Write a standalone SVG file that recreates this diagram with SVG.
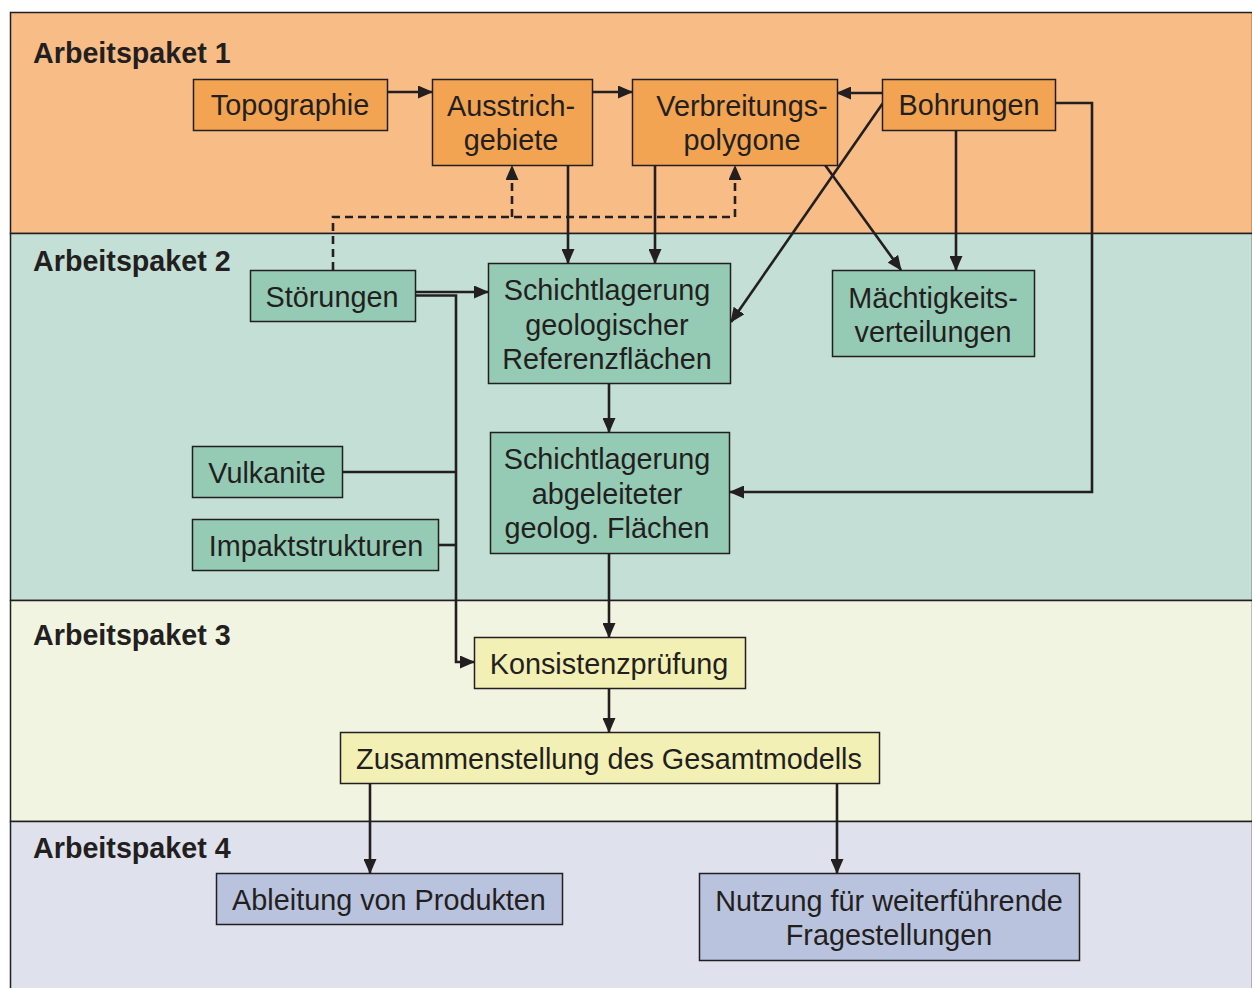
<svg xmlns="http://www.w3.org/2000/svg" width="1252" height="988" viewBox="0 0 1252 988">
<style>
.band{stroke:#231f20;stroke-width:1.5}
.box{stroke:#231f20;stroke-width:1.5}
.o{fill:#f2a452}.g{fill:#95cab5}.y{fill:#f2f0b5}.b{fill:#b9c3de}
text{font-family:"Liberation Sans",Arial,sans-serif;fill:#231f20}
.t{font-size:28.8px;text-anchor:middle}
.h{font-size:28.7px;font-weight:bold}
.c{fill:none;stroke:#231f20;stroke-width:2.6}
.d{fill:none;stroke:#231f20;stroke-width:2.6;stroke-dasharray:8 5}
</style>
<defs>
<marker id="ar" markerUnits="userSpaceOnUse" markerWidth="15" markerHeight="13" refX="14" refY="6.5" orient="auto"><path d="M0,0 L15,6.5 L0,13 z" fill="#231f20"/></marker>
</defs>
<g id="bands">
<rect class="band" x="10.5" y="12.5" width="1242" height="221" fill="#f8bd87"/>
<rect class="band" x="10.5" y="233.5" width="1242" height="367" fill="#c3dfd6"/>
<rect class="band" x="10.5" y="600.5" width="1242" height="221" fill="#f2f4e2"/>
<rect class="band" x="10.5" y="821.5" width="1242" height="180" fill="#dfe2ec"/>
<text class="h" x="33" y="63">Arbeitspaket 1</text>
<text class="h" x="33" y="271">Arbeitspaket 2</text>
<text class="h" x="33" y="645">Arbeitspaket 3</text>
<text class="h" x="33" y="858">Arbeitspaket 4</text>
</g>
<g id="connectors">
<line class="c" x1="387" y1="92" x2="432" y2="92" marker-end="url(#ar)"/>
<line class="c" x1="592" y1="92" x2="632" y2="92" marker-end="url(#ar)"/>
<line class="c" x1="882" y1="93" x2="837" y2="93" marker-end="url(#ar)"/>
<line class="c" x1="883" y1="103" x2="731" y2="322" marker-end="url(#ar)"/>
<line class="c" x1="825" y1="165" x2="901" y2="270" marker-end="url(#ar)"/>
<line class="c" x1="956" y1="130" x2="956" y2="270" marker-end="url(#ar)"/>
<polyline class="c" points="1055,103 1092,103 1092,492 730,492" marker-end="url(#ar)"/>
<line class="c" x1="568" y1="165" x2="568" y2="263" marker-end="url(#ar)"/>
<line class="c" x1="655" y1="165" x2="655" y2="263" marker-end="url(#ar)"/>
<polyline class="d" points="333,270 333,217 735,217 735,166" marker-end="url(#ar)"/>
<line class="d" x1="512" y1="217" x2="512" y2="166" marker-end="url(#ar)"/>
<line class="c" x1="415" y1="292" x2="488" y2="292" marker-end="url(#ar)"/>
<polyline class="c" points="415,295.5 456,295.5 456,662 474,662" marker-end="url(#ar)"/>
<line class="c" x1="342" y1="472" x2="456" y2="472"/>
<line class="c" x1="438" y1="545" x2="456" y2="545"/>
<line class="c" x1="609" y1="383" x2="609" y2="432" marker-end="url(#ar)"/>
<line class="c" x1="609" y1="553" x2="609" y2="637" marker-end="url(#ar)"/>
<line class="c" x1="609" y1="688" x2="609" y2="732" marker-end="url(#ar)"/>
<line class="c" x1="370" y1="783" x2="370" y2="873" marker-end="url(#ar)"/>
<line class="c" x1="837" y1="783" x2="837" y2="873" marker-end="url(#ar)"/>
</g>
<g id="topographie"><rect class="box o" x="193.5" y="79.5" width="194" height="51"/><text class="t" x="290" y="115">Topographie</text></g>
<g id="ausstrich"><rect class="box o" x="432.5" y="79.5" width="160" height="86"/><text class="t" x="511" y="116">Ausstrich-</text><text class="t" x="511" y="150">gebiete</text></g>
<g id="verbreitung"><rect class="box o" x="632.5" y="79.5" width="205" height="86"/><text class="t" x="742" y="116">Verbreitungs-</text><text class="t" x="742" y="150">polygone</text></g>
<g id="bohrungen"><rect class="box o" x="882.5" y="79.5" width="173" height="51"/><text class="t" x="969" y="115">Bohrungen</text></g>
<g id="stoerungen"><rect class="box g" x="250.5" y="270.5" width="165" height="51"/><text class="t" x="332" y="307">Störungen</text></g>
<g id="schicht-ref"><rect class="box g" x="488.5" y="263.5" width="242" height="120"/><text class="t" x="607" y="300">Schichtlagerung</text><text class="t" x="607" y="335">geologischer</text><text class="t" x="607" y="369">Referenzflächen</text></g>
<g id="maechtigkeit"><rect class="box g" x="832.5" y="270.5" width="202" height="86"/><text class="t" x="933" y="308">Mächtigkeits-</text><text class="t" x="933" y="342">verteilungen</text></g>
<g id="vulkanite"><rect class="box g" x="192.5" y="446.5" width="150" height="51"/><text class="t" x="267" y="483">Vulkanite</text></g>
<g id="impakt"><rect class="box g" x="192.5" y="519.5" width="246" height="51"/><text class="t" x="316" y="556">Impaktstrukturen</text></g>
<g id="schicht-abg"><rect class="box g" x="490.5" y="432.5" width="239" height="121"/><text class="t" x="607" y="469">Schichtlagerung</text><text class="t" x="607" y="504">abgeleiteter</text><text class="t" x="607" y="538">geolog. Flächen</text></g>
<g id="konsistenz"><rect class="box y" x="474.5" y="637.5" width="271" height="51"/><text class="t" x="609" y="674">Konsistenzprüfung</text></g>
<g id="gesamtmodell"><rect class="box y" x="340.5" y="732.5" width="539" height="51"/><text class="t" x="609" y="769">Zusammenstellung des Gesamtmodells</text></g>
<g id="produkte"><rect class="box b" x="216.5" y="873.5" width="346" height="51"/><text class="t" x="389" y="910">Ableitung von Produkten</text></g>
<g id="nutzung"><rect class="box b" x="699.5" y="873.5" width="380" height="87"/><text class="t" x="889" y="911">Nutzung für weiterführende</text><text class="t" x="889" y="945">Fragestellungen</text></g>
</svg>
